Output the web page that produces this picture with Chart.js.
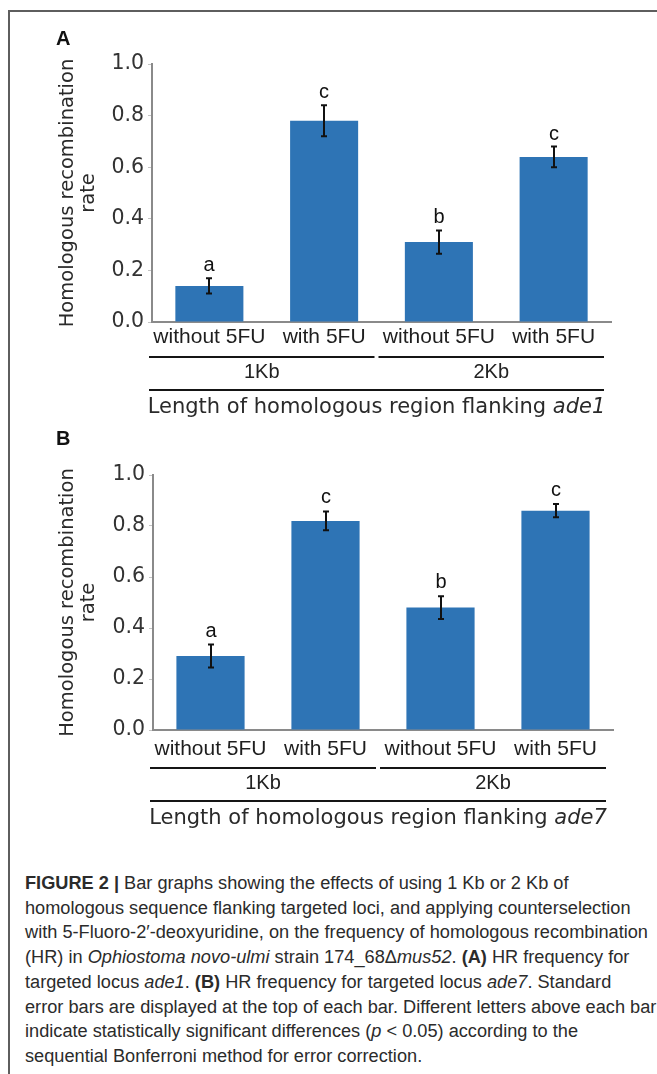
<!DOCTYPE html>
<html><head><meta charset="utf-8">
<script src="https://cdn.jsdelivr.net/npm/chart.js@4"></script>
<style>
html,body{margin:0;padding:0;background:#fff;}
body{width:657px;height:1074px;position:relative;overflow:hidden;}
#frame{position:absolute;left:8px;top:10px;width:700px;height:1200px;border-top:2px solid #5e5e5e;border-left:2px solid #5e5e5e;}
canvas{position:absolute;left:0;}
.panel{position:absolute;left:56px;font:bold 20px "Liberation Sans",Arial,sans-serif;color:#111;line-height:22px;}
#caption{position:absolute;left:25px;top:871px;font:18px "Liberation Sans",Arial,sans-serif;line-height:24.7px;color:#2b2b2b;white-space:nowrap;transform-origin:0 0;}
#caption div{display:block;}
#caption span.l{display:inline-block;}
</style></head>
<body>
<div id="frame"></div>
<canvas id="chartA" width="657" height="420" style="top:0px"></canvas>
<canvas id="chartB" width="657" height="420" style="top:420px"></canvas>
<div class="panel" style="top:27px">A</div>
<div class="panel" style="top:427px">B</div>
<div id="caption">
<div><span class="l"><b>FIGURE 2 |</b> Bar graphs showing the effects of using 1 Kb or 2 Kb of</span></div>
<div><span class="l">homologous sequence flanking targeted loci, and applying counterselection</span></div>
<div><span class="l" id="refLine">with 5-Fluoro-2′-deoxyuridine, on the frequency of homologous recombination</span></div>
<div><span class="l">(HR) in <i>Ophiostoma novo-ulmi</i> strain 174_68Δ<i>mus52</i>. <b>(A)</b> HR frequency for</span></div>
<div><span class="l">targeted locus <i>ade1</i>. <b>(B)</b> HR frequency for targeted locus <i>ade7</i>. Standard</span></div>
<div><span class="l">error bars are displayed at the top of each bar. Different letters above each bar</span></div>
<div><span class="l">indicate statistically significant differences (<i>p</i> &lt; 0.05) according to the</span></div>
<div><span class="l">sequential Bonferroni method for error correction.</span></div>
</div>
<script>
// ---- data ----
const categories = ['without 5FU', 'with 5FU', 'without 5FU', 'with 5FU'];
const groups = ['1Kb', '2Kb'];
const yTickLabels = ['0.0', '0.2', '0.4', '0.6', '0.8', '1.0'];
const ade1Rates = [0.14, 0.78, 0.31, 0.64];
const ade1Errors = [0.03, 0.06, 0.045, 0.04];
const ade1Letters = ['a', 'c', 'b', 'c'];
const ade7Rates = [0.29, 0.82, 0.48, 0.86];
const ade7Errors = [0.045, 0.037, 0.045, 0.026];
const ade7Letters = ['a', 'c', 'b', 'c'];
const yTitle = ['Homologous recombination', 'rate'];
const xTitle = 'Length of homologous region flanking ';

function overlay(errors, letters, locus, o) {
  return {
    id: 'ov_' + locus,
    afterDatasetsDraw(chart) {
      const ctx = chart.ctx, xs = chart.scales.x, ys = chart.scales.y;
      const vals = chart.data.datasets[0].data;
      ctx.save();
      ctx.strokeStyle = '#111'; ctx.lineWidth = 2; ctx.fillStyle = '#111';
      ctx.font = '20px "Liberation Sans", Arial';
      ctx.textAlign = 'center'; ctx.textBaseline = 'alphabetic';
      vals.forEach((v, i) => {
        const x = Math.round(xs.getPixelForValue(i));
        const yt = ys.getPixelForValue(v + errors[i]);
        const yb = ys.getPixelForValue(v - errors[i]);
        ctx.beginPath();
        ctx.moveTo(x, yt); ctx.lineTo(x, yb);
        ctx.moveTo(x - 3, yt); ctx.lineTo(x + 3, yt);
        ctx.moveTo(x - 3, yb); ctx.lineTo(x + 3, yb);
        ctx.stroke();
        ctx.fillText(letters[i], x, yt - o.letterGap);
      });
      ctx.restore();
    },
    afterDraw(chart) {
      const ctx = chart.ctx, xs = chart.scales.x, area = chart.chartArea;
      const catW = (area.right - area.left) / categories.length;
      ctx.save();
      ctx.strokeStyle = '#151515'; ctx.lineWidth = 2; ctx.fillStyle = '#222';
      ctx.textAlign = 'center'; ctx.textBaseline = 'middle';
      ctx.font = '20px "Liberation Sans", Arial';
      groups.forEach((g, gi) => {
        const first = gi * 2, last = gi * 2 + 1;
        const x1 = xs.getPixelForValue(first) - catW / 2 - 3;
        const x2 = xs.getPixelForValue(last) + catW / 2 - 7;
        const y = area.bottom + o.line1;
        ctx.beginPath(); ctx.moveTo(x1, y); ctx.lineTo(x2, y); ctx.stroke();
        ctx.fillText(g, (x1 + x2) / 2, area.bottom + o.group);
      });
      const L1 = area.left - 3, L2 = area.right - 7, y2 = area.bottom + o.line2;
      ctx.beginPath(); ctx.moveTo(L1, y2); ctx.lineTo(L2, y2); ctx.stroke();
      const fMain = '21px "DejaVu Sans"', fIt = 'italic 21px "DejaVu Sans"';
      ctx.font = fMain; const w1 = ctx.measureText(xTitle).width;
      ctx.font = fIt; const w2 = ctx.measureText(locus).width;
      const sx = (L1 + L2) / 2 - (w1 + w2) / 2;
      ctx.textAlign = 'left'; ctx.fillStyle = '#2a2a2a';
      ctx.font = fMain; ctx.fillText(xTitle, sx, area.bottom + o.title);
      ctx.font = fIt; ctx.fillText(locus, sx + w1, area.bottom + o.title);
      ctx.restore();
    }
  };
}

function makeChart(id, rates, errors, letters, locus, c) {
  return new Chart(document.getElementById(id), {
    type: 'bar',
    data: {
      labels: categories,
      datasets: [{ data: rates, backgroundColor: '#2e74b5', borderWidth: 0,
        barPercentage: 0.593, categoryPercentage: 1 }]
    },
    options: {
      responsive: false, animation: false, devicePixelRatio: 1,
      layout: { padding: { left: 0, top: c.top, right: c.right, bottom: 0 } },
      plugins: { legend: { display: false }, tooltip: { enabled: false } },
      scales: {
        x: {
          grid: { display: true, drawOnChartArea: false, drawTicks: false },
          border: { display: true, color: '#8a8a8a', width: 2 },
          ticks: { color: '#1e1e1e', font: { family: '"Liberation Sans", Arial', size: 21 },
            padding: c.tickPad, maxRotation: 0, autoSkip: false },
          afterFit: s => { s.height = c.xH; }
        },
        y: {
          min: 0, max: 1,
          ticks: { stepSize: 0.2, callback: (v, i) => yTickLabels[i], color: '#333',
            font: { family: '"DejaVu Sans"', size: 20.5 }, padding: 4 },
          grid: { display: true, drawOnChartArea: false, drawTicks: true, tickLength: 4, color: '#c4c4c4' },
          border: { display: true, color: '#8a8a8a', width: 2 },
          title: { display: true, text: yTitle, color: '#2a2a2a',
            font: { family: '"DejaVu Sans"', size: 19.5, lineHeight: 1.1 },
            padding: { top: 57, bottom: 0 } },
          afterFit: s => { s.width = c.yW; }
        }
      }
    },
    plugins: [overlay(errors, letters, locus, c)]
  });
}

makeChart('chartA', ade1Rates, ade1Errors, ade1Letters, 'ade1',
  { top: 64, right: 46, xH: 98, yW: 152, tickPad: 3, line1: 35, group: 50, line2: 68, title: 86, letterGap: 7 });
makeChart('chartB', ade7Rates, ade7Errors, ade7Letters, 'ade7',
  { top: 55, right: 44, xH: 110, yW: 153, tickPad: 7, line1: 38, group: 53, line2: 71, title: 89, letterGap: 8 });

// caption horizontal fit (condensed look)
const ref = document.getElementById('refLine');
const w = ref.getBoundingClientRect().width;
document.getElementById('caption').style.transform = 'scaleX(' + (623 / w) + ')';
</script>
</body></html>
